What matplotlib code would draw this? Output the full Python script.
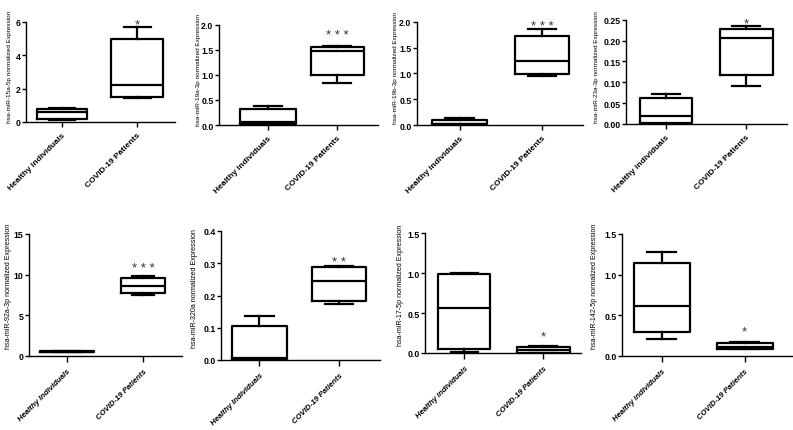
import matplotlib
matplotlib.use("Agg")
import matplotlib.pyplot as plt

plt.rcParams['font.family'] = ['Liberation Sans', 'DejaVu Sans']

groups_top = ["Healthy individuals", "COVID-19 Patients"]
groups_bottom_a = ["Healthy Individuals", "COVID-19 Patients"]
groups_bottom_b = ["Healthy individuals", "COVID-19 Patients"]

mirnas = ["hsa-miR-15a-5p", "hsa-miR-19a-3p", "hsa-miR-19b-3p", "hsa-miR-23a-3p",
          "hsa-miR-92a-3p", "hsa-miR-320a", "hsa-miR-17-5p", "hsa-miR-142-5p"]

# [min, q1, median, q3, max] for Healthy and COVID-19
healthy_stats = [
    [0.10, 0.20, 0.60, 0.78, 0.82],
    [0.00, 0.01, 0.05, 0.31, 0.38],
    [0.00, 0.01, 0.02, 0.10, 0.135],
    [0.000, 0.002, 0.018, 0.063, 0.073],
    [0.45, 0.48, 0.52, 0.58, 0.62],
    [0.000, 0.002, 0.005, 0.104, 0.137],
    [0.01, 0.046, 0.565, 0.985, 1.00],
    [0.204, 0.29, 0.613, 1.144, 1.283],
]
covid_stats = [
    [1.44, 1.50, 2.24, 4.96, 5.68],
    [0.84, 0.99, 1.47, 1.56, 1.58],
    [0.95, 0.99, 1.245, 1.73, 1.85],
    [0.090, 0.118, 0.206, 0.228, 0.235],
    [7.55, 7.76, 8.60, 9.60, 9.84],
    [0.175, 0.183, 0.246, 0.289, 0.291],
    [0.000, 0.003, 0.040, 0.080, 0.090],
    [0.086, 0.086, 0.11, 0.155, 0.168],
]
significance = ["*", "* * *", "* * *", "*", "* * *", "* *", "*", "*"]
star_y = [6.1, 1.87, 2.0, 0.25, 11.3, 0.317, 0.26, 0.355]

yticks = [
    [0, 2, 4, 6],
    [0.0, 0.5, 1.0, 1.5, 2.0],
    [0.0, 0.5, 1.0, 1.5, 2.0],
    [0.00, 0.05, 0.10, 0.15, 0.20, 0.25],
    [0, 5, 10, 15],
    [0.0, 0.1, 0.2, 0.3, 0.4],
    [0.0, 0.5, 1.0, 1.5],
    [0.0, 0.5, 1.0, 1.5],
]
ytick_fmt = ["{:.0f}", "{:.1f}", "{:.1f}", "{:.2f}", "{:.0f}", "{:.1f}", "{:.1f}", "{:.1f}"]

W, H = 793, 431
fig = plt.figure(figsize=(W / 100, H / 100), dpi=100)

# pixel layout: left, top, right, bottom, xlim, ylabel x-pixel, ylabel y-frac
layout = [
    (26, 23, 175, 123, (0.52, 2.5), 12, 0.56),
    (219, 25.7, 378, 126, (0.29, 2.59), 201, 0.56),
    (417, 22.7, 583, 126, (0.48, 2.5), 398, 0.56),
    (626, 20.7, 787, 125, (0.5, 2.51), 599, 0.56),
    (29, 235, 182, 357, (0.5, 2.51), 12, 0.58),
    (221, 232, 380, 361, (0.52, 2.51), 198, 0.56),
    (425, 234, 581, 354, (0.5, 2.48), 404, 0.575),
    (622, 235, 792, 357, (0.52, 2.57), 598, 0.58),
]
box_widths = [
    (0.67, 0.69), (0.8, 0.77), (0.67, 0.66), (0.66, 0.66),
    (0.7, 0.57), (0.69, 0.67), (0.66, 0.67), (0.67, 0.67),
]

for i in range(8):
    l, t, r, b, xl, labx, laby = layout[i]
    ax = fig.add_axes([l / W, 1 - b / H, (r - l) / W, (b - t) / H])
    stats = []
    for s, name in zip((healthy_stats[i], covid_stats[i]), ("H", "C")):
        stats.append(dict(whislo=s[0], q1=s[1], med=s[2], q3=s[3], whishi=s[4], label=name))
    widths = list(box_widths[i])
    ax.bxp(stats, positions=[1, 2], widths=widths,
           capwidths=[w * 0.52 for w in widths],
           showfliers=False, patch_artist=False,
           boxprops=dict(color='black', linewidth=1.6),
           medianprops=dict(color='black', linewidth=1.6),
           whiskerprops=dict(color='black', linewidth=1.6),
           capprops=dict(color='black', linewidth=1.6))
    ax.set_xlim(*xl)
    yt = yticks[i]
    ax.set_ylim(yt[0], yt[-1])
    ax.set_yticks(yt)
    ax.set_yticklabels([ytick_fmt[i].format(v) for v in yt], fontsize=6.3, fontweight='bold')
    ax.set_xticks([1, 2])
    if i < 4:
        labels = groups_top
        style = 'normal'
        xfs, xpad, xlen = 6.0, 3, 3.5
        yfs = 4.6
    else:
        labels = groups_bottom_a if i < 6 else groups_bottom_b
        style = 'italic'
        xfs, xpad, xlen = 5.6, 4, 4
        yfs = 5.1
    ax.set_xticklabels(labels, rotation=45, ha='right', rotation_mode='anchor',
                       fontsize=xfs, fontweight='bold', fontstyle=style)
    for sp in ('top', 'right'):
        ax.spines[sp].set_visible(False)
    for sp in ('left', 'bottom'):
        ax.spines[sp].set_linewidth(1.0)
    ax.tick_params(axis='y', length=3, width=1.0, pad=1)
    ax.tick_params(axis='x', length=xlen, width=1.0, pad=xpad)
    ax.set_ylabel(mirnas[i] + " normalized Expression", fontsize=yfs)
    ax.yaxis.set_label_coords(-(l - labx) / (r - l), laby)
    ax.annotate(significance[i], xy=(2, star_y[i]), xytext=(0, -3),
                textcoords='offset points', ha='center', va='center',
                fontsize=9.5, color='#333333', annotation_clip=False)

fig.savefig("out.png", dpi=100)
